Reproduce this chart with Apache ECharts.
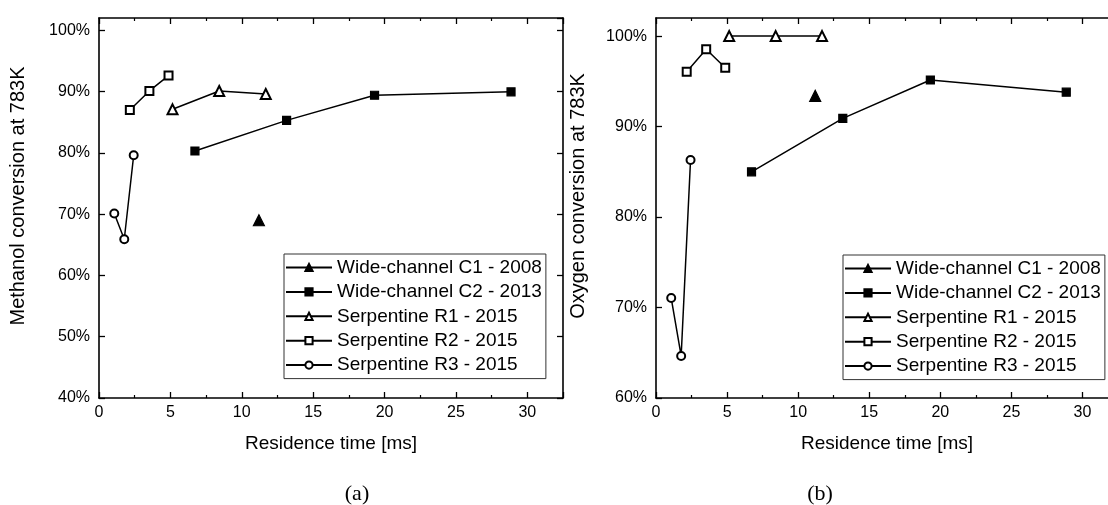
<!DOCTYPE html>
<html>
<head>
<meta charset="utf-8">
<script src="https://cdn.jsdelivr.net/npm/echarts@6/dist/echarts.min.js"></script>
<style>
html,body{margin:0;padding:0;background:#fff;}
#main{width:1108px;height:505px;}
</style>
</head>
<body>
<div id="main"></div>
<script>
// Residence time [ms]
const rtC1 = [11.2];
const rtC2 = [6.72, 13.14, 19.3, 28.86];
const rtR1 = [5.15, 8.42, 11.68];
const rtR2 = [2.16, 3.53, 4.87];
const rtR3 = [1.07, 1.77, 2.43];

// (a) Methanol conversion at 783K [%]
const methC1 = [69.0];
const methC2 = [80.3, 85.3, 89.4, 89.95];
const methR1 = [87.1, 90.1, 89.6];
const methR2 = [87.0, 90.1, 92.6];
const methR3 = [70.1, 65.9, 79.6];

// (b) Oxygen conversion at 783K [%]
const oxyC1 = [93.4];
const oxyC2 = [85.0, 90.9, 95.15, 93.8];
const oxyR1 = [100, 100, 100];
const oxyR2 = [96.05, 98.55, 96.5];
const oxyR3 = [71.05, 64.65, 86.3];

const seriesNames = ['Wide-channel C1 - 2008', 'Wide-channel C2 - 2013', 'Serpentine R1 - 2015', 'Serpentine R2 - 2015', 'Serpentine R3 - 2015'];
const xTitle = 'Residence time [ms]';
const yTitleA = 'Methanol conversion at 783K';
const yTitleB = 'Oxygen conversion at 783K';
const panelLabels = ['(a)', '(b)'];

const FONT = '"Liberation Sans", Arial, sans-serif';
const SERIF = '"Liberation Serif", "Times New Roman", serif';

const symbols = ['triangle', 'rect', 'emptyTriangle', 'emptyRect', 'emptyCircle'];
const symbolSizes = [11, 8, 10, 8, 8];

function zip(xs, ys) { return xs.map((x, i) => [x, ys[i]]); }

const rts = [rtC1, rtC2, rtR1, rtR2, rtR3];
const methAll = [methC1, methC2, methR1, methR2, methR3];
const oxyAll = [oxyC1, oxyC2, oxyR1, oxyR2, oxyR3];

function makeSeries(ys, gi) {
  return seriesNames.map((name, i) => ({
    name: name,
    type: 'line',
    xAxisIndex: gi * 2,
    yAxisIndex: gi * 2,
    data: zip(rts[i], ys[i]),
    symbol: symbols[i],
    symbolSize: symbolSizes[i],
    showAllSymbol: true,
    color: '#000',
    itemStyle: { color: '#000', borderColor: '#000', borderWidth: 1.2 },
    lineStyle: { color: '#000', width: 1.5 },
    animation: false,
    z: 3
  }));
}

function xAxes(gi) {
  const base = {
    type: 'value', gridIndex: gi, min: 0, max: 32.5, interval: 5,
    axisLine: { show: true, onZero: false, lineStyle: { color: '#000', width: 1.6 } },
    axisTick: { show: true, inside: true, length: 6, lineStyle: { color: '#000', width: 1.3 } },
    minorTick: { show: true, splitNumber: 2, length: 3, lineStyle: { color: '#000', width: 1.2 } },
    splitLine: { show: false }
  };
  return [
    Object.assign({}, base, {
      position: 'bottom',
      name: xTitle, nameLocation: 'middle', nameGap: 36,
      nameTextStyle: { fontFamily: FONT, fontSize: 19, color: '#000' },
      axisLabel: { show: true, margin: 7, showMaxLabel: false, fontFamily: FONT, fontSize: 16, color: '#000' }
    }),
    Object.assign({}, base, { position: 'top', axisLabel: { show: false } })
  ];
}

function yAxes(gi, min) {
  const base = {
    type: 'value', gridIndex: gi, min: min, max: 102, interval: 10,
    axisLine: { show: true, onZero: false, lineStyle: { color: '#000', width: 1.6 } },
    axisTick: { show: true, inside: true, length: 6, lineStyle: { color: '#000', width: 1.3 } },
    splitLine: { show: false }
  };
  return [
    Object.assign({}, base, {
      position: 'left',
      axisLabel: { show: true, margin: 9, showMaxLabel: false, formatter: '{value}%', fontFamily: FONT, fontSize: 16, color: '#000' }
    }),
    Object.assign({}, base, { position: 'right', axisLabel: { show: false } })
  ];
}

function legend(left, top) {
  return {
    data: seriesNames, orient: 'vertical', left: left, top: top,
    itemWidth: 46, itemHeight: 9, itemGap: 5.4,
    padding: [4, 4, 4, 1],
    borderColor: '#333', borderWidth: 1, backgroundColor: '#fff',
    selectedMode: false,
    textStyle: { fontFamily: FONT, fontSize: 19, color: '#000', lineHeight: 19 }
  };
}

const chart = echarts.init(document.getElementById('main'), null, { renderer: 'canvas' });
chart.setOption({
  backgroundColor: '#fff',
  animation: false,
  grid: [
    { left: 99, top: 18, width: 464, height: 380, outerBoundsMode: 'none', containLabel: false },
    { left: 656, top: 18, width: 462, height: 380, outerBoundsMode: 'none', containLabel: false }
  ],
  xAxis: xAxes(0).concat(xAxes(1)),
  yAxis: yAxes(0, 40).concat(yAxes(1, 60)),
  legend: [legend(284, 254), legend(843, 255)],
  graphic: [
    { type: 'text', x: 18, y: 196, rotation: Math.PI / 2,
      style: { text: yTitleA, font: '20px ' + FONT, fill: '#000', textAlign: 'center', textVerticalAlign: 'middle' } },
    { type: 'text', x: 578, y: 196, rotation: Math.PI / 2,
      style: { text: yTitleB, font: '20px ' + FONT, fill: '#000', textAlign: 'center', textVerticalAlign: 'middle' } },
    { type: 'text', x: 357, y: 494,
      style: { text: panelLabels[0], font: '22px ' + SERIF, fill: '#000', textAlign: 'center', textVerticalAlign: 'middle' } },
    { type: 'text', x: 820, y: 494,
      style: { text: panelLabels[1], font: '22px ' + SERIF, fill: '#000', textAlign: 'center', textVerticalAlign: 'middle' } }
  ],
  series: makeSeries(methAll, 0).concat(makeSeries(oxyAll, 1))
});
</script>
</body>
</html>
